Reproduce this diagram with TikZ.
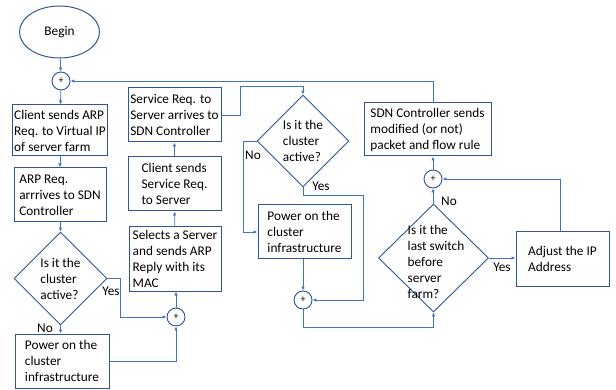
\documentclass[tikz,border=0pt]{standalone}
\usepackage{fontspec}
\setmainfont{Carlito}
\usetikzlibrary{shapes.geometric,arrows.meta}
\definecolor{edgeblue}{RGB}{47,85,151}
\definecolor{lineblue}{RGB}{68,114,196}
\tikzset{
  box/.style={draw=edgeblue, line width=1pt, rectangle, align=left, inner sep=2pt,
    font=\fontsize{13.3}{16}\selectfont},
  start/.style={draw=edgeblue, line width=1pt, ellipse, minimum width=80, minimum height=52,
    font=\fontsize{13.3}{16}\selectfont},
  decision/.style={draw=edgeblue, line width=0.9pt, diamond, inner sep=0pt},
  dtext/.style={align=left, inner sep=0pt, font=\fontsize{13.3}{16}\selectfont},
  junction/.style={draw=edgeblue, line width=0.9pt, circle, minimum size=18, inner sep=0pt,
    font=\fontsize{10}{10}\selectfont},
  flow/.style={draw=lineblue, line width=0.8pt, -{Latex[length=4pt,width=3.5pt]}},
  tag/.style={font=\fontsize{13.3}{14}\selectfont, inner sep=0pt}
}
\begin{document}
\begin{tikzpicture}[x=1pt,y=-1pt]
\useasboundingbox (0,0) rectangle (616,390);

% left column
\node[start] (begin) at (59.5,32) {Begin};
\node[junction] (p1) at (61,81) {+};
\node[box, minimum width=92, minimum height=51] (arpreq) at (60,130.5)
  {Client sends ARP\\Req. to Virtual IP\\of server farm};
\node[box, minimum width=92, minimum height=54] (arparr) at (60,195)
  {ARP Req.\\arrrives to SDN\\Controller};
\node[decision, minimum width=93, minimum height=93] (act1) at (60.5,278.5) {};
\node[dtext] (act1t) at (act1) {Is it the\\cluster\\active?};
\node[box, minimum width=94, minimum height=54] (pow1) at (62,361)
  {Power on the\\cluster\\infrastructure};

% second column
\node[junction] (p2) at (176,317) {+};
\node[box, minimum width=92, minimum height=64] (select) at (175,259)
  {Selects a Server\\and sends ARP\\Reply with its\\MAC};
\node[box, minimum width=93, minimum height=54] (svcsend) at (174.5,184)
  {Client sends\\Service Req.\\to Server};
\node[box, minimum width=93, minimum height=54] (svcarr) at (174.5,115)
  {Service Req. to\\Server arrives to\\SDN Controller};

% third column
\node[decision, minimum width=92, minimum height=92] (act2) at (303,141) {};
\node[dtext] (act2t) at (act2) {Is it the\\cluster\\active?};
\node[box, minimum width=93, minimum height=54] (pow2) at (304.5,232)
  {Power on the\\cluster\\infrastructure};
\node[junction] (p3) at (303,300) {+};

% right part
\node[decision, minimum width=110, minimum height=108] (last) at (433.5,258) {};
\node[dtext] (lastt) at (436,262) {Is it the\\last switch\\before\\server\\farm?};
\node[junction] (p4) at (433,179) {+};
\node[box, minimum width=127, minimum height=53] (ctrl) at (427.5,129.5)
  {SDN Controller sends\\modified (or not)\\packet and flow rule};
\node[box, minimum width=93, minimum height=54] (adjust) at (562.5,259)
  {Adjust the IP\\Address};

% bend points
\coordinate (y1) at (120,278.5);
\coordinate (y1b) at (120,317);
\coordinate (sa) at (240,115);
\coordinate (sb) at (240,86);
\coordinate (sc) at (303,86);
\coordinate (na) at (243,141);
\coordinate (nb) at (243,232);
\coordinate (ya) at (303,195);
\coordinate (yb) at (363,195);
\coordinate (yc) at (363,300);
\coordinate (ja) at (303,327);
\coordinate (jb) at (433.5,327);
\coordinate (aa) at (560,179);
\coordinate (ca) at (433,81);

% connectors
\draw[flow] (begin) -- (p1);
\draw[flow] (p1) -- (arpreq);
\draw[flow] (arpreq) -- (arparr);
\draw[flow] (arparr.south -| act1.north) -- (act1.north);
\draw[flow] (act1.south) -- (act1.south |- pow1.north);
\draw[flow] (act1.east) -- (y1) -- (y1b) -- (p2.west);
\draw[flow] (pow1.east) -| (p2.south);
\draw[flow] (p2.north) -- (p2.north |- select.south);
\draw[flow] (select) -- (svcsend);
\draw[flow] (svcsend) -- (svcarr);
\draw[flow] (svcarr.east |- sa) -- (sa) -- (sb) -- (sc) -- (act2.north);
\draw[flow] (act2.west) -- (na) -- (nb) -- (pow2.west |- nb);
\draw[flow] (act2.south) -- (ya) -- (yb) -- (yc) -- (p3.east);
\draw[flow] (pow2.south -| p3) -- (p3.north);
\draw[flow] (p3.south) -- (ja) -- (jb) -- (last.south);
\draw[flow] (last.north -| p4) -- (p4.south);
\draw[flow] (last.east) -- (adjust.west |- last.east);
\draw[flow] (adjust.north -| aa) -- (aa) -- (p4.east);
\draw[flow] (p4.north) -- (p4.north |- ctrl.south);
\draw[flow] (ctrl.north -| ca) -- (ca) -- (p1.east);

% branch labels
\node[tag] (l1) at (111,291) {Yes};
\node[tag] (l2) at (45,328) {No};
\node[tag] (l3) at (253,155) {No};
\node[tag] (l4) at (321,186) {Yes};
\node[tag] (l5) at (449,201) {No};
\node[tag] (l6) at (502,267) {Yes};
\end{tikzpicture}
\end{document}
